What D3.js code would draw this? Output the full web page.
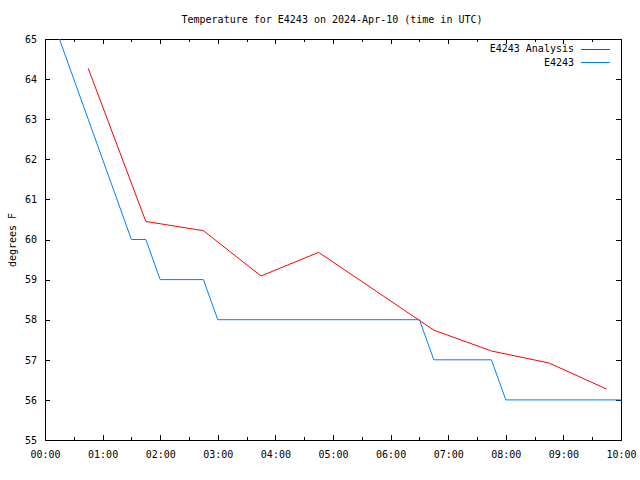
<!DOCTYPE html>
<html>
<head>
<meta charset="utf-8">
<script src="https://cdn.jsdelivr.net/npm/d3@7"></script>
<style>
  html, body { margin: 0; padding: 0; background: #fff; }
  text { font-family: "DejaVu Sans Mono", "Liberation Mono", monospace; font-size: 10px; fill: #000; }
</style>
</head>
<body>
<svg id="chart" width="640" height="480"></svg>
<script>
// ---- Data ----
const titleText = "Temperature for E4243 on 2024-Apr-10 (time in UTC)";
const yLabel = "degrees F";
const seriesNames = ["E4243 Analysis", "E4243"];
const seriesColors = ["#ff0000", "#0080ff"];

// Analysis series (times as "HH:MM", UTC)
const analysisTimes = ["00:45", "01:45", "02:45", "03:45", "04:45", "05:45", "06:45", "07:45", "08:45", "09:45"];
const analysisValues = [64.27, 60.45, 60.22, 59.09, 59.68, 58.71, 57.74, 57.22, 56.92, 56.27];

// Observation series
const obsTimes = ["00:00", "01:30", "01:45", "02:00", "02:45", "03:00", "06:30", "06:45", "07:45", "08:00", "10:00"];
const obsValues = [66, 60, 60, 59, 59, 58, 58, 57, 57, 56, 56];

const yTicks = [55, 56, 57, 58, 59, 60, 61, 62, 63, 64, 65];
const xTickLabels = ["00:00", "01:00", "02:00", "03:00", "04:00", "05:00", "06:00", "07:00", "08:00", "09:00", "10:00"];

// ---- Layout ----
const svg = d3.select("#chart");
const L = 45, R = 621, T = 39, B = 440;
const day = "2024-04-10T";
const parse = s => new Date(day + s + ":00Z");

const x = d3.scaleUtc().domain([parse("00:00"), parse("10:00")]).range([L, R]);
const y = d3.scaleLinear().domain([55, 65]).range([B, T]);

const majorTicks = xTickLabels.map(parse);
const minorTicks = d3.range(0, 10).map(h => new Date(Date.UTC(2024, 3, 10, h, 30)));

// clip
svg.append("defs").append("clipPath").attr("id", "clip")
  .append("rect").attr("x", L).attr("y", T).attr("width", R - L + 1).attr("height", B - T);

const g = svg.append("g").attr("shape-rendering", "crispEdges");

// bottom axis
const fmt = d3.utcFormat("%H:%M");
const xAxisB = d3.axisBottom(x).tickValues(majorTicks).tickFormat(fmt).tickSizeInner(-5).tickSizeOuter(0).tickPadding(11);
const gxb = g.append("g").attr("transform", `translate(0,${B})`).call(xAxisB);
gxb.select(".domain").remove();
gxb.selectAll("text").attr("font-family", null).attr("font-size", null);
// minor ticks bottom & top
g.append("g").attr("transform", `translate(0,${B})`)
  .call(d3.axisBottom(x).tickValues(minorTicks).tickFormat("").tickSizeInner(-3).tickSizeOuter(0))
  .select(".domain").remove();
g.append("g").attr("transform", `translate(0,${T})`)
  .call(d3.axisTop(x).tickValues(minorTicks).tickFormat("").tickSizeInner(-3).tickSizeOuter(0))
  .select(".domain").remove();
// top major ticks
g.append("g").attr("transform", `translate(0,${T})`)
  .call(d3.axisTop(x).tickValues(majorTicks).tickFormat("").tickSizeInner(-5).tickSizeOuter(0))
  .select(".domain").remove();

// left axis
const gyl = g.append("g").attr("transform", `translate(${L},0)`)
  .call(d3.axisLeft(y).tickValues(yTicks).tickFormat(d3.format("d")).tickSizeInner(-5).tickSizeOuter(0).tickPadding(8));
gyl.select(".domain").remove();
gyl.selectAll("text").attr("font-family", null).attr("font-size", null);
// right axis ticks
g.append("g").attr("transform", `translate(${R},0)`)
  .call(d3.axisRight(y).tickValues(yTicks).tickFormat("").tickSizeInner(-5).tickSizeOuter(0))
  .select(".domain").remove();

// border
g.append("rect").attr("x", L + 0.5).attr("y", T + 0.5).attr("width", R - L).attr("height", B - T)
  .attr("fill", "none").attr("stroke", "#000").attr("stroke-width", 1);

// lines
const line = d3.line().x(d => x(d.t)).y(d => y(d.v));
const analysis = analysisTimes.map((t, i) => ({ t: parse(t), v: analysisValues[i] }));
const obs = obsTimes.map((t, i) => ({ t: parse(t), v: obsValues[i] }));

const plot = svg.append("g").attr("clip-path", "url(#clip)");
plot.append("path").datum(analysis).attr("d", line)
  .attr("fill", "none").attr("stroke", seriesColors[0]).attr("stroke-width", 1);
plot.append("path").datum(obs).attr("d", line)
  .attr("fill", "none").attr("stroke", seriesColors[1]).attr("stroke-width", 1);

// legend
const leg = svg.append("g");
seriesNames.forEach((name, i) => {
  const yy = 48.5 + i * 13.5;
  leg.append("text").attr("x", 574).attr("y", yy).attr("dy", "0.35em")
    .attr("text-anchor", "end").text(name);
  leg.append("line").attr("x1", 581).attr("x2", 610).attr("y1", Math.round(yy) + 0.5).attr("y2", Math.round(yy) + 0.5)
    .attr("stroke", seriesColors[i]).attr("stroke-width", 1).attr("shape-rendering", "crispEdges");
});

// title
svg.append("text").attr("x", 332).attr("y", 19).attr("dy", "0.35em")
  .attr("text-anchor", "middle").text(titleText);

// y label
svg.append("text").attr("transform", "translate(12,240) rotate(-90)")
  .attr("dy", "0.35em").attr("text-anchor", "middle").text(yLabel);
</script>
</body>
</html>
